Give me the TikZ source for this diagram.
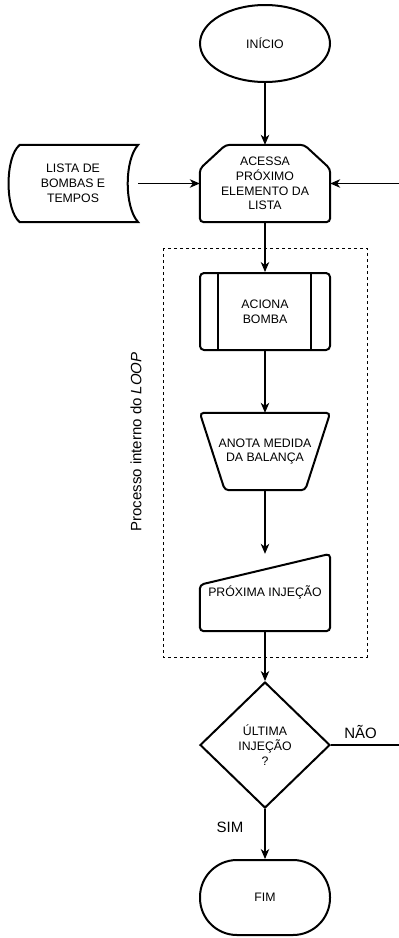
\documentclass[tikz,border=0pt]{standalone}
\usepackage{fontspec}
\setmainfont{Liberation Sans}
\usetikzlibrary{shapes.geometric}
\usetikzlibrary{arrows.meta}

\begin{document}
\begin{tikzpicture}[x=1pt,y=-1pt,
    caixa/.style={minimum width=130pt,minimum height=77pt,inner sep=0pt,align=center,font=\fontsize{12.3pt}{14.8pt}\selectfont},
    borda/.style={line width=2pt,rounded corners=4pt},
    seta/.style={line width=1.1pt,-{Stealth[length=10pt,width=8.5pt,inset=3pt]}},
    rotulo/.style={font=\fontsize{15pt}{18pt}\selectfont}]
\useasboundingbox (0,0) rectangle (399,938);

\node[caixa,ellipse,draw,line width=2pt] (inicio) at (265,43.5) {INÍCIO};
\node[caixa] (acessa) at (265,183.5) {ACESSA\\PRÓXIMO\\ELEMENTO DA\\LISTA};
\node[caixa] (lista) at (73,183.5) {LISTA DE\\BOMBAS E\\TEMPOS};
\node[caixa,draw,borda] (aciona) at (265,311.5) {ACIONA\\BOMBA};
\node[caixa] (anota) at (265,451.5) {ANOTA MEDIDA\\DA BALANÇA};
\node[caixa] (proxima) at (265,592.5) {PRÓXIMA INJEÇÃO};
\node[caixa,diamond,draw,line width=2pt,minimum height=126pt] (ultima) at (265,745) {ÚLTIMA\\INJEÇÃO\\?};
\node[caixa,draw,line width=2pt,rounded corners=37pt,minimum height=75pt] (fim) at (265,897.5) {FIM};

\draw[borda] ([xshift=26pt]acessa.north west) -- ([xshift=-26pt]acessa.north east) -- ([yshift=-24pt]acessa.north east) -- (acessa.south east) -- (acessa.south west) -- ([yshift=-24pt]acessa.north west) -- cycle;
\draw[line width=2pt] ([xshift=12pt]lista.north west) -- (lista.north east) .. controls ([xshift=-14pt,yshift=-15pt]lista.north east) and ([xshift=-14pt,yshift=15pt]lista.south east) .. (lista.south east) -- ([xshift=12pt]lista.south west) .. controls ([xshift=-3pt,yshift=12pt]lista.south west) and ([xshift=-3pt,yshift=-12pt]lista.north west) .. cycle;
\draw[line width=2pt] ([xshift=19pt]aciona.north west) -- ([xshift=19pt]aciona.south west)
    ([xshift=-20pt]aciona.north east) -- ([xshift=-20pt]aciona.south east);
\draw[borda] (anota.north west) -- (anota.north east) -- ([xshift=-25pt]anota.south east) -- ([xshift=25pt]anota.south west) -- cycle;
\draw[borda] ([yshift=-31pt]proxima.north west) -- (proxima.north east) -- (proxima.south east) -- (proxima.south west) -- cycle;

\draw[line width=1pt,dash pattern=on 3pt off 3pt] (163,248) rectangle (367,657);
\node[rotulo,rotate=90] (processo) at (136,442) {Processo interno do \textit{LOOP}};

\coordinate (volta) at (399,183.5);
\coordinate (saida) at (399,745);
\draw[seta] (inicio.south) -- (acessa.north);
\draw[seta] (lista.east) -- (acessa.west);
\draw[seta] (volta) -- (acessa.east);
\draw[seta] (acessa.south) -- (aciona.north);
\draw[seta] (aciona.south) -- (anota.north);
\draw[seta] (anota.south) -- (proxima.north);
\draw[seta] (proxima.south) -- (ultima.north);
\draw[seta] (ultima.south) -- (fim.north);
\draw[line width=1.1pt] (ultima.east) -- (saida);

\node[rotulo] (nao) at (360.5,732) {NÃO};
\node[rotulo] (sim) at (230,827) {SIM};
\end{tikzpicture}
\end{document}
